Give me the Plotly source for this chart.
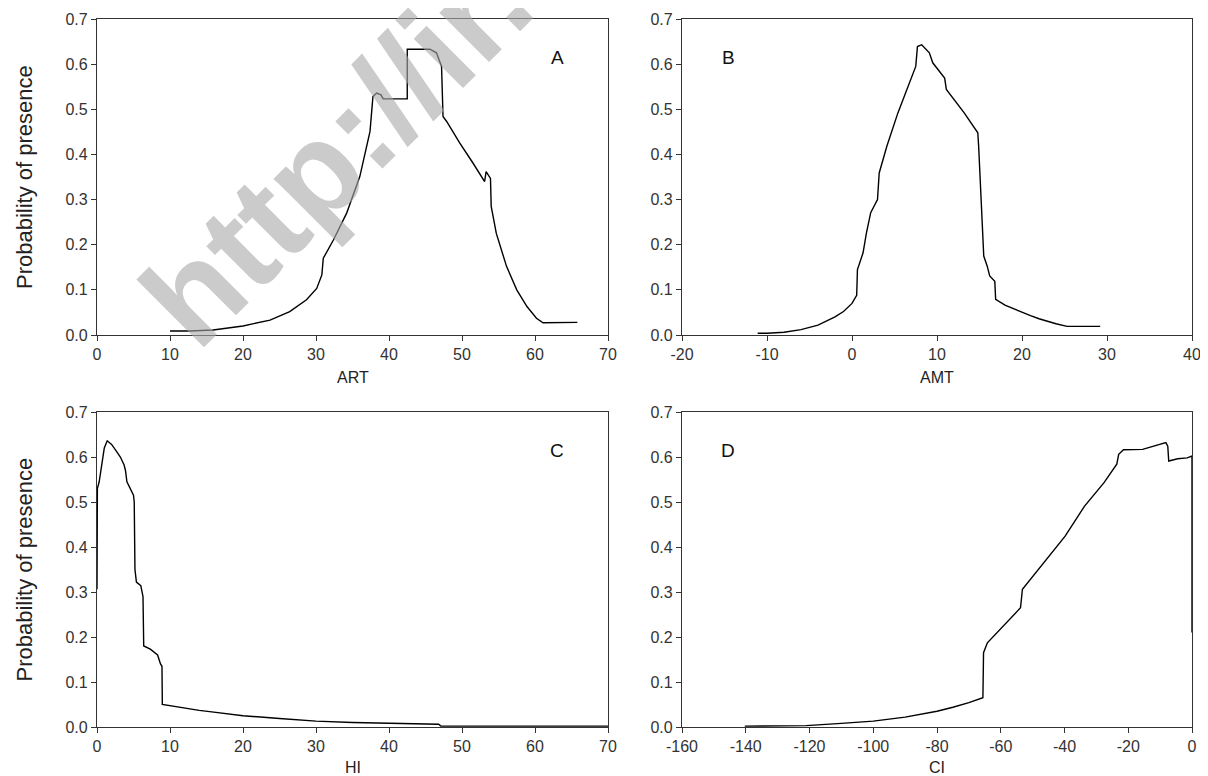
import plotly.graph_objects as go

# ---------------- data ----------------
art_x = [10.0, 12.7, 15.9, 20.0, 23.7, 26.4, 28.7, 30.1, 30.8, 31.0, 32.4, 34.2, 36.0, 36.9, 37.4,
         37.8, 38.3, 38.9, 39.2, 42.5, 42.5, 45.6, 46.5, 47.2, 47.4, 47.9, 49.7, 51.5, 53.1, 53.3,
         53.9, 54.0, 54.7, 56.1, 57.5, 58.9, 60.2, 61.1, 65.8]
art_y = [0.009, 0.009, 0.011, 0.020, 0.033, 0.052, 0.078, 0.103, 0.133, 0.170, 0.211, 0.270, 0.351,
         0.418, 0.451, 0.528, 0.536, 0.532, 0.523, 0.523, 0.633, 0.633, 0.625, 0.595, 0.484, 0.473,
         0.425, 0.381, 0.340, 0.362, 0.347, 0.285, 0.225, 0.152, 0.100, 0.063, 0.037, 0.027, 0.028]

amt_x = [-11.1, -10.0, -8.0, -6.0, -4.0, -2.0, -1.0, 0.0, 0.55, 0.64, 1.3, 1.7, 2.2, 3.0, 3.2, 4.1,
         5.4, 6.3, 7.5, 7.7, 8.2, 9.1, 9.5, 10.9, 11.1, 13.2, 14.8, 14.9, 15.2, 15.5, 15.9, 16.2,
         16.8, 16.9, 18.0, 19.0, 20.0, 21.0, 22.0, 23.0, 24.0, 25.3, 29.2]
amt_y = [0.004, 0.004, 0.006, 0.012, 0.022, 0.040, 0.052, 0.070, 0.088, 0.145, 0.182, 0.226, 0.271,
         0.300, 0.359, 0.418, 0.492, 0.536, 0.595, 0.639, 0.643, 0.625, 0.603, 0.569, 0.544, 0.492,
         0.448, 0.418, 0.300, 0.175, 0.153, 0.131, 0.119, 0.079, 0.066, 0.058, 0.050, 0.043, 0.036,
         0.030, 0.025, 0.019, 0.019]

hi_x = [0.0, 0.05, 0.3, 0.7, 1.0, 1.4, 2.0, 2.6, 3.2, 3.7, 3.9, 4.1, 4.5, 5.0, 5.1, 5.2, 5.4, 6.0,
        6.3, 6.4, 7.3, 8.3, 8.7, 8.9, 8.95, 10.0, 12.0, 14.0, 16.0, 18.0, 20.0, 25.0, 30.0, 35.0,
        40.0, 46.8, 47.1, 70.0]
hi_y = [0.306, 0.530, 0.545, 0.590, 0.620, 0.636, 0.628, 0.614, 0.600, 0.583, 0.570, 0.545, 0.532,
        0.515, 0.500, 0.350, 0.322, 0.314, 0.290, 0.180, 0.173, 0.160, 0.140, 0.135, 0.050, 0.047,
        0.042, 0.037, 0.033, 0.029, 0.025, 0.019, 0.013, 0.010, 0.008, 0.006, 0.002, 0.002]

ci_x = [-140.3, -121.0, -110.0, -100.0, -90.0, -85.0, -80.0, -75.0, -70.0, -65.6, -65.4, -64.2,
        -58.1, -53.8, -53.2, -49.5, -39.8, -33.7, -27.6, -23.6, -23.0, -21.5, -15.5, -8.2, -7.6,
        -7.3, -4.5, -1.5, 0.0, 0.0]
ci_y = [0.002, 0.003, 0.008, 0.013, 0.022, 0.028, 0.035, 0.044, 0.054, 0.065, 0.165, 0.187, 0.232,
        0.265, 0.306, 0.339, 0.424, 0.491, 0.543, 0.584, 0.606, 0.616, 0.617, 0.632, 0.624, 0.591,
        0.596, 0.598, 0.602, 0.210]

panel_letters = ["A", "B", "C", "D"]
x_titles = ["ART", "AMT", "HI", "CI"]
y_title = "Probability of presence"
x_ranges = [[0, 70], [-20, 40], [0, 70], [-160, 0]]
x_tickvals = [[0, 10, 20, 30, 40, 50, 60, 70],
              [-20, -10, 0, 10, 20, 30, 40],
              [0, 10, 20, 30, 40, 50, 60, 70],
              [-160, -140, -120, -100, -80, -60, -40, -20, 0]]
y_tickvals = [0.0, 0.1, 0.2, 0.3, 0.4, 0.5, 0.6, 0.7]
watermark = "http://ir."

# ---------------- layout geometry ----------------
OFF = 8                      # browser default body margin
W, H = 1208 - OFF, 776 - OFF
cols = [(97, 608), (682, 1192)]
rows = [(19, 335), (412, 727)]
title_gap = [42, 40]


def px(x):
    return (x - OFF) / W


def py(y):
    return 1 - (y - OFF) / H


FONT = "Liberation Sans, Arial, sans-serif"
TXT = "#333333"

fig = go.Figure()
series = [(art_x, art_y), (amt_x, amt_y), (hi_x, hi_y), (ci_x, ci_y)]
for i, (sx, sy) in enumerate(series):
    sfx = "" if i == 0 else str(i + 1)
    fig.add_trace(go.Scatter(x=sx, y=sy, mode="lines", xaxis="x" + sfx, yaxis="y" + sfx,
                             line=dict(color="black", width=1.4), showlegend=False,
                             hoverinfo="skip"))

layout = dict(width=W, height=H, margin=dict(l=0, r=0, t=0, b=0),
              paper_bgcolor="white", plot_bgcolor="white", showlegend=False,
              font=dict(family=FONT, color=TXT))

annotations = []
for i in range(4):
    r, c = divmod(i, 2)
    sfx = "" if i == 0 else str(i + 1)
    x0, x1 = cols[c]
    y0, y1 = rows[r]
    common = dict(showline=True, linecolor="#333333", linewidth=1.3, mirror=True,
                  ticks="outside", ticklen=5, tickwidth=1.2, tickcolor="#333333",
                  showgrid=False, zeroline=False, automargin=False,
                  tickfont=dict(family=FONT, size=16, color=TXT))
    layout["xaxis" + sfx] = dict(domain=[px(x0), px(x1)], anchor="y" + sfx,
                                 range=x_ranges[i], tickvals=x_tickvals[i],
                                 ticktext=[str(v) for v in x_tickvals[i]], **common)
    layout["yaxis" + sfx] = dict(domain=[py(y1), py(y0)], anchor="x" + sfx, range=[0, 0.7],
                                 tickvals=y_tickvals,
                                 ticktext=["%.1f" % v for v in y_tickvals], **common)
    # x title
    annotations.append(dict(text=x_titles[i], xref="paper", yref="paper",
                            x=px((x0 + x1) / 2), y=py(y1 + title_gap[r]),
                            xanchor="center", yanchor="middle", showarrow=False,
                            font=dict(family=FONT, size=16, color="#222222")))
    # panel letter
    lx = 557 if c == 0 else 728
    annotations.append(dict(text=panel_letters[i], xref="paper", yref="paper",
                            x=px(lx), y=py(y0 + 38),
                            xanchor="center", yanchor="middle", showarrow=False,
                            font=dict(family=FONT, size=19, color="#111111")))
    if c == 0:
        annotations.append(dict(text=y_title, xref="paper", yref="paper",
                                x=px(24), y=py((y0 + y1) / 2), textangle=-90,
                                xanchor="center", yanchor="middle", showarrow=False,
                                font=dict(family=FONT, size=22, color="#222222")))

# watermark
annotations.append(dict(text="<b>" + watermark + "</b>", xref="paper", yref="paper",
                        x=px(336), y=py(150), textangle=-45,
                        xanchor="center", yanchor="middle", showarrow=False,
                        opacity=0.6,
                        font=dict(family="Liberation Sans, Arial, sans-serif", size=132,
                                  color="rgb(170,170,170)")))

layout["annotations"] = annotations
fig.update_layout(**layout)
fig.write_html("out.html")
